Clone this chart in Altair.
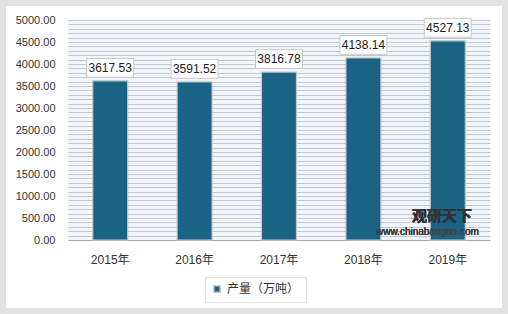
import altair as alt
import pandas as pd

years = ["2015年", "2016年", "2017年", "2018年", "2019年"]
values = [3617.53, 3591.52, 3816.78, 4138.14, 4527.13]
series = "产量（万吨）"
label_step = 500
grid_lines = list(range(0, 5001, 100))

df = pd.DataFrame({"year": years, "value": values, "series": [series] * len(years)})

FONT = "Liberation Sans, Noto Sans CJK SC"
W, H = 422, 220

x = alt.X("year:N", sort=years, scale=alt.Scale(paddingInner=0.58, paddingOuter=0.29),
          axis=alt.Axis(title=None, labelAngle=0, ticks=False, domain=True, domainColor="#a6a6a6",
                        labelFontSize=12, labelColor="#333333", labelPadding=14, labelFont=FONT))
yscale = alt.Scale(domain=[0, 5000], nice=False)
yaxis = alt.Axis(title=None, orient="left", values=grid_lines,
                 labelExpr=f"datum.value % {label_step} === 0 ? format(datum.value, '.2f') : ''",
                 labelOverlap=False, ticks=False, domain=False, grid=True,
                 gridColor="#c3c8ce", gridWidth=1, labelFontSize=11, labelColor="#333333",
                 labelPadding=13, labelFont=FONT)
Y = alt.Y("value:Q", scale=yscale, axis=yaxis)

base = alt.Chart(df)

bars = base.mark_bar(size=35, stroke="#c4c8cc", strokeWidth=1.2).encode(
    x=x, y=Y,
    color=alt.Color("series:N", scale=alt.Scale(range=["#1a6384"]),
                    legend=alt.Legend(title=None, orient="none", legendX=137, legendY=257,
                                      symbolType="square", symbolSize=40, labelFontSize=12,
                                      labelFont=FONT, labelColor="#333333",
                                      fillColor="#ffffff", strokeColor="#e2e2e2", padding=6)),
)

boxes = base.mark_point(
    shape="M-1,-0.4 L1,-0.4 L1,0.4 L-1,0.4 Z", size=47 * 47, filled=True,
    fill="#ffffff", stroke="#c8c8c8", strokeWidth=1, opacity=1, yOffset=-13,
).encode(x=x, y=Y)

texts = base.mark_text(fontSize=12, font=FONT, color="#222222", yOffset=-13, baseline="middle").encode(
    x=x, y=Y, text=alt.Text("value:Q", format=".2f")
)

frame = base.mark_rect(filled=False, stroke="#e2e2e2", strokeWidth=12).encode(
    x=alt.value(-68), x2=alt.value(W + 18), y=alt.value(-20), y2=alt.value(H + 74)
)

wm1 = base.mark_text(text="观研天下", fontSize=15, fontWeight="bold", font="Noto Sans CJK SC",
                     color="#333333", align="left", opacity=0.85).encode(
    x=alt.value(410 - 68 + 2), y=alt.value(216 - 20)
)
wm2 = base.mark_text(text="www.chinabaogao.com", fontSize=10, font=FONT,
                     color="#444444", align="left", opacity=0.85).encode(
    x=alt.value(376 - 68), y=alt.value(232 - 20)
)

chart = alt.layer(bars, boxes, texts, frame, wm1, wm2).properties(
    width=W, height=H, background="#ffffff",
    padding={"left": 68, "top": 20, "right": 18, "bottom": 74},
    autosize=alt.AutoSizeParams(type="none"),
).configure_view(fill="#f2f5f9", stroke=None)

chart.save("out.html", embed_options={"renderer": "svg", "actions": False})
